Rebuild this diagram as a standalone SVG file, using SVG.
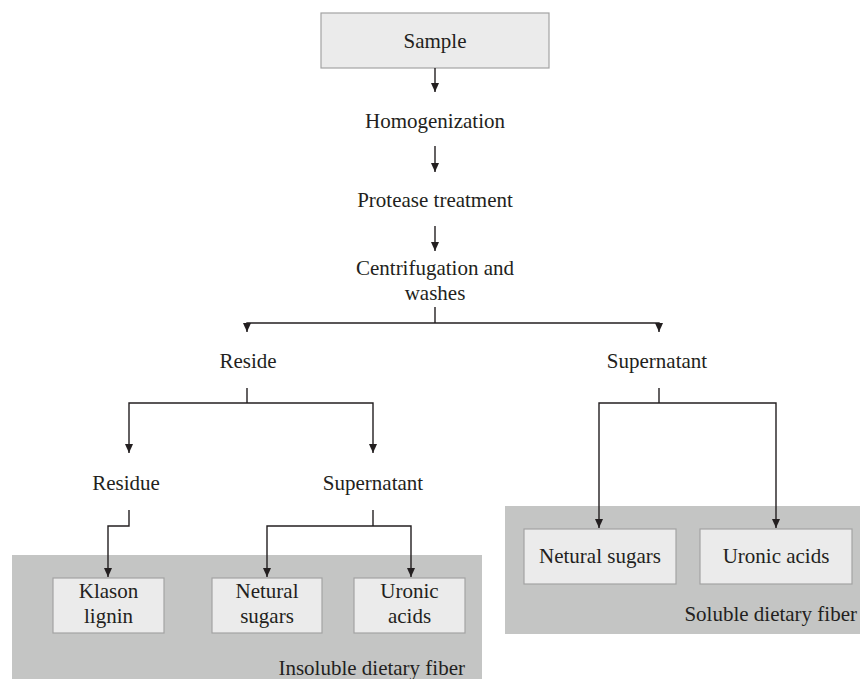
<svg xmlns="http://www.w3.org/2000/svg" width="860" height="679" viewBox="0 0 860 679" font-family="'Liberation Serif', 'DejaVu Serif', serif">
  <style>
    text { font-family: "Liberation Serif", "DejaVu Serif", serif; font-size: 21px; fill: #231f20; text-anchor: middle; }
    .box { fill: #ebebeb; stroke: #a3a3a3; stroke-width: 1.2; }
    .panel { fill: #c4c5c4; }
    .conn { fill: none; stroke: #231f20; stroke-width: 1.4; }
    .arr { marker-end: url(#ah); }
  </style>
  <defs>
    <marker id="ah" markerUnits="userSpaceOnUse" markerWidth="10" markerHeight="10" refX="9" refY="4" orient="auto">
      <path d="M0,0 L9,4 L0,8 z" fill="#231f20"/>
    </marker>
  </defs>

  <g id="insoluble-panel">
    <rect class="panel" x="12" y="555" width="470" height="124"/>
    <text x="465" y="675" style="text-anchor:end">Insoluble dietary fiber</text>
  </g>
  <g id="soluble-panel">
    <rect class="panel" x="505" y="506" width="355" height="128"/>
    <text x="857" y="621" style="text-anchor:end">Soluble dietary fiber</text>
  </g>

  <g id="sample">
    <rect class="box" x="321" y="13" width="228" height="55"/>
    <text x="435" y="48">Sample</text>
  </g>
  <g id="homogenization">
    <text x="435" y="128">Homogenization</text>
  </g>
  <g id="protease">
    <text x="435" y="207">Protease treatment</text>
  </g>
  <g id="centrifugation">
    <text x="435" y="275">Centrifugation and</text>
    <text x="435" y="300">washes</text>
  </g>
  <g id="reside">
    <text x="248" y="368">Reside</text>
  </g>
  <g id="supernatant-right">
    <text x="657" y="368">Supernatant</text>
  </g>
  <g id="residue">
    <text x="126" y="490">Residue</text>
  </g>
  <g id="supernatant-left">
    <text x="373" y="490">Supernatant</text>
  </g>
  <g id="klason-lignin">
    <rect class="box" x="53" y="578" width="111" height="55"/>
    <text x="108.5" y="598">Klason</text>
    <text x="108.5" y="623">lignin</text>
  </g>
  <g id="netural-sugars-left">
    <rect class="box" x="212" y="578" width="110" height="55"/>
    <text x="267" y="598">Netural</text>
    <text x="267" y="623">sugars</text>
  </g>
  <g id="uronic-acids-left">
    <rect class="box" x="354" y="578" width="111" height="55"/>
    <text x="409.5" y="598">Uronic</text>
    <text x="409.5" y="623">acids</text>
  </g>
  <g id="netural-sugars-right">
    <rect class="box" x="524" y="529" width="152" height="55"/>
    <text x="600" y="563">Netural sugars</text>
  </g>
  <g id="uronic-acids-right">
    <rect class="box" x="700" y="529" width="152" height="55"/>
    <text x="776" y="563">Uronic acids</text>
  </g>

  <g id="connectors">
    <line class="conn arr" x1="435" y1="68" x2="435" y2="92"/>
    <line class="conn arr" x1="435" y1="146" x2="435" y2="172"/>
    <line class="conn arr" x1="435" y1="226" x2="435" y2="251"/>
    <line class="conn" x1="435" y1="307" x2="435" y2="323"/>
    <path class="conn arr" d="M435,323 H247 V332"/>
    <path class="conn arr" d="M435,323 H659 V332"/>
    <line class="conn" x1="247" y1="388" x2="247" y2="403"/>
    <path class="conn arr" d="M247,403 H129 V453"/>
    <path class="conn arr" d="M247,403 H373 V453"/>
    <path class="conn arr" d="M129,510 V526 H108 V577"/>
    <line class="conn" x1="373" y1="510" x2="373" y2="526"/>
    <path class="conn arr" d="M373,526 H267 V577"/>
    <path class="conn arr" d="M373,526 H411 V577"/>
    <line class="conn" x1="659" y1="388" x2="659" y2="403"/>
    <path class="conn arr" d="M659,403 H599 V528"/>
    <path class="conn arr" d="M659,403 H776 V528"/>
  </g>
</svg>
